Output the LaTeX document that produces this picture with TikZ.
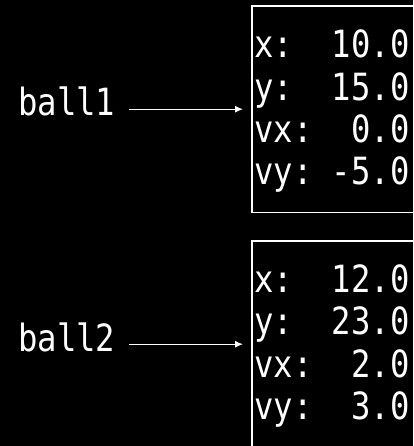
\documentclass[tikz,border=0pt]{standalone}
\usepackage{fontspec}
\newfontfamily\boxmono[FakeStretch=0.86]{DejaVu Sans Mono}
\usetikzlibrary{arrows.meta}
\newcommand\mypad{\phantom{0}}
\begin{document}
\begin{tikzpicture}[x=1pt,y=1pt,
  txt/.style={text=white,font=\boxmono\fontsize{37.5}{42}\selectfont,inner sep=0pt,anchor=base west},
  rec/.style={anchor=north west,minimum height=206pt,minimum width=161pt,inner sep=0pt},
  frame/.style={draw=white,line width=1.4pt},
  ptr/.style={draw=white,line width=1.2pt,-{Latex[length=8pt,width=7pt]},shorten <=13.5pt,shorten >=9pt}]
\useasboundingbox (0,0) rectangle (413,-446);
\fill[black] (0,0) rectangle (413,-446);
\node[rec] (b1) at (252,-6) {};
\node[rec] (b2) at (252,-241) {};
\draw[frame] (b1.north east) -- (b1.north west) -- (b1.south west) -- (b1.south east);
\draw[frame] (b2.north east) -- (b2.north west) -- (b2.south west) -- (b2.south east);
\node[txt] (r11) at (254,-58) {x:\mypad\mypad10.0};
\node[txt] (r12) at (254,-100.3) {y:\mypad\mypad15.0};
\node[txt] (r13) at (254,-142.7) {vx:\mypad\mypad0.0};
\node[txt] (r14) at (254,-185) {vy:\mypad-5.0};
\node[txt] (r21) at (254,-292.5) {x:\mypad\mypad12.0};
\node[txt] (r22) at (254,-334.8) {y:\mypad\mypad23.0};
\node[txt] (r23) at (254,-377.2) {vx:\mypad\mypad2.0};
\node[txt] (r24) at (254,-419.5) {vy:\mypad\mypad3.0};
\node[txt] (l1) at (18,-116) {ball1};
\node[txt] (l2) at (18,-351) {ball2};
\draw[ptr] (l1.base east |- b1.west) -- (b1.west);
\draw[ptr] (l2.base east |- b2.west) -- (b2.west);
\end{tikzpicture}
\end{document}
